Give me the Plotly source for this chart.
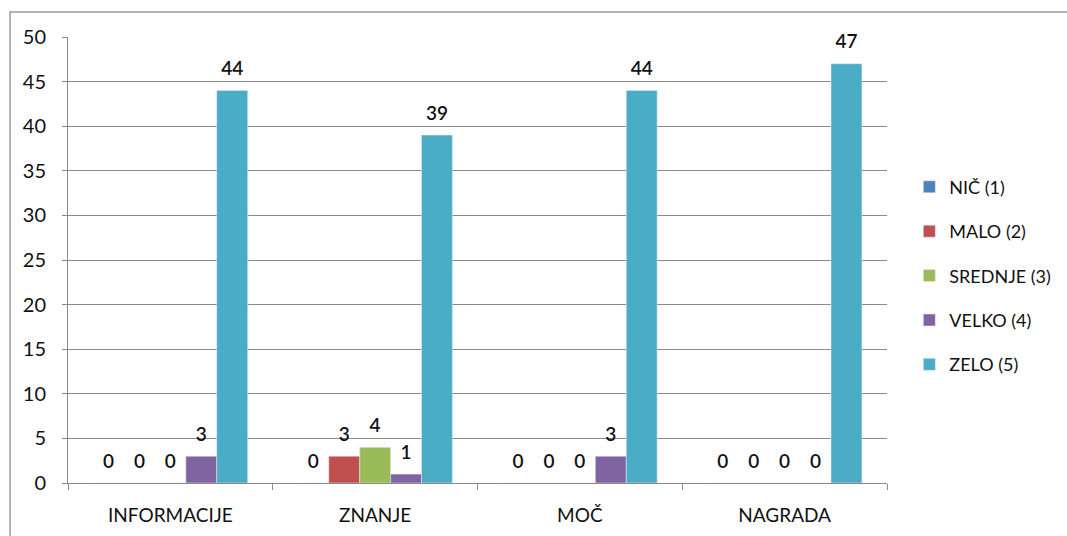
import plotly.graph_objects as go

categories = ["INFORMACIJE", "ZNANJE", "MOČ", "NAGRADA"]
series_names = ["NIČ (1)", "MALO (2)", "SREDNJE (3)", "VELKO (4)", "ZELO (5)"]
nic = [0, 0, 0, 0]
malo = [0, 3, 0, 0]
srednje = [0, 4, 0, 0]
velko = [3, 1, 3, 0]
zelo = [44, 39, 44, 47]
colors = ["#4F81BD", "#C0504D", "#9BBB59", "#8064A2", "#4BACC6"]

FONT = "Lato, 'Open Sans', sans-serif"

fig = go.Figure()
for i, (name, vals) in enumerate(zip(series_names, [nic, malo, srednje, velko, zelo])):
    fig.add_trace(go.Bar(
        x=categories, y=vals, name=name, marker_color=colors[i],
        text=[f"<span style='font-size:19px'>{v}</span><br>\u00a0" for v in vals],
        textposition="outside",
        textfont=dict(size=8, color="#111", family=FONT, weight=600),
        cliponaxis=False, legendgroup=name,
    ))

fig.update_layout(
    width=1067, height=536,
    margin=dict(l=68, r=179, t=37, b=53),
    paper_bgcolor="white", plot_bgcolor="white",
    barmode="group", bargap=0.245, bargroupgap=0,
    font=dict(family=FONT, color="#111"),
    showlegend=True,
    legend=dict(x=1.026, y=0.705, xanchor="left", yanchor="top",
                font=dict(size=18, family=FONT, color="#111"),
                traceorder="grouped", tracegroupgap=18,
                itemwidth=30, bgcolor="rgba(0,0,0,0)"),
)
fig.update_yaxes(range=[0, 50], dtick=5, showgrid=True, gridcolor="#8a8a8a", gridwidth=1,
                 showline=True, linecolor="#8a8a8a", ticks="outside", ticklen=5,
                 tickcolor="#8a8a8a", tickfont=dict(size=20, family=FONT, color="#111"),
                 ticklabelstandoff=12, zeroline=False, automargin=False)
fig.update_xaxes(showline=True, linecolor="#8a8a8a", ticks="outside", ticklen=6,
                 tickcolor="#8a8a8a", tickson="boundaries", ticklabelstandoff=15,
                 tickfont=dict(size=19, family=FONT, color="#111"), automargin=False)

fig.add_shape(type="rect", xref="paper", yref="paper",
              x0=(10 - 68) / 820, x1=(1075 - 68) / 820,
              y0=(483 - 545) / 446, y1=(483 - 12) / 446,
              line=dict(color="#9a9a9a", width=1.5), fillcolor="rgba(0,0,0,0)", layer="below")

fig.write_html("out.html")
